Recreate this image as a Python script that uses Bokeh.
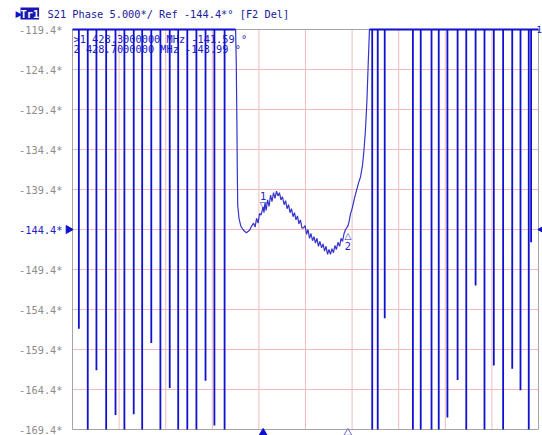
import math
from bokeh.plotting import figure
from bokeh.models import Range1d, Label, ColumnDataSource
from bokeh.embed import file_html
from bokeh.resources import INLINE
from bokeh.core.properties import value

# ---------------- data ----------------
START_MHZ, STOP_MHZ = 427.4, 429.6
TOP, BOTTOM = -119.4, -169.4
REF = -144.4

y_ticks = [-119.4, -124.4, -129.4, -134.4, -139.4, -144.4,
           -149.4, -154.4, -159.4, -164.4, -169.4]
y_tick_labels = ["-119.4*", "-124.4*", "-129.4*", "-134.4*", "-139.4*", "-144.4*",
                 "-149.4*", "-154.4*", "-159.4*", "-164.4*", "-169.4*"]
x_grid_ticks = [427.62, 427.84, 428.06, 428.28, 428.50, 428.72, 428.94, 429.16, 429.38]

# phase-wrap crossings below the pass band: frequency and lowest phase reached
spur_left_freq = [427.430, 427.472, 427.513, 427.559, 427.603, 427.645, 427.689, 427.729,
                  427.772, 427.815, 427.859, 427.899, 427.942, 427.985, 428.028, 428.070,
                  428.118]
spur_left_low = [-156.8, -169.4, -162.0, -169.4, -167.6, -169.4, -167.5, -169.4,
                 -158.6, -169.4, -164.2, -169.4, -169.4, -169.4, -163.3, -168.9,
                 -169.4]

# pass band trace
pass_freq = [428.170, 428.173, 428.176, 428.178, 428.180, 428.186, 428.195, 428.207,
             428.221, 428.236, 428.245, 428.255, 428.262, 428.269, 428.276, 428.283,
             428.290, 428.300, 428.304, 428.309, 428.314, 428.321, 428.328, 428.335,
             428.342, 428.349, 428.356, 428.363, 428.370, 428.377, 428.384, 428.391,
             428.399, 428.406, 428.413, 428.420, 428.427, 428.434, 428.441, 428.448,
             428.455, 428.462, 428.469, 428.476, 428.483, 428.491, 428.498, 428.505,
             428.512, 428.519, 428.526, 428.533, 428.540, 428.547, 428.554, 428.561,
             428.568, 428.576, 428.583, 428.590, 428.597, 428.604, 428.611, 428.618,
             428.625, 428.632, 428.639, 428.646, 428.653, 428.661, 428.668, 428.675,
             428.682, 428.689, 428.700, 428.705, 428.712, 428.722, 428.731, 428.741,
             428.750, 428.760, 428.769, 428.776, 428.783, 428.790, 428.795, 428.800,
             428.802]
pass_phase = [-119.4, -123.3, -130.8, -137.0, -141.4, -143.0, -144.0, -144.5,
              -144.8, -144.5, -144.0, -143.6, -144.1, -143.0, -143.6, -142.4,
              -142.6, -141.59, -142.3, -141.1, -142.0, -140.7, -141.5, -140.1,
              -140.9, -139.8, -140.5, -139.6, -140.2, -139.8, -140.7, -140.3,
              -141.3, -140.8, -141.8, -141.3, -142.3, -141.8, -142.8, -142.3,
              -143.2, -142.7, -143.7, -143.2, -144.2, -144.2, -143.9, -145.0,
              -144.4, -145.5, -144.9, -145.8, -145.3, -146.1, -145.5, -146.5,
              -145.9, -146.7, -146.2, -147.1, -146.5, -147.5, -146.9, -147.5,
              -146.8, -147.3, -146.4, -146.9, -146.0, -146.5, -145.5, -145.9,
              -144.9, -144.4, -143.99, -143.5, -142.5, -141.6, -140.5, -139.5,
              -138.6, -137.8, -136.4, -134.5, -132.0, -128.3, -124.5, -120.8,
              -119.4]

# phase-wrap crossings above the pass band
spur_right_freq = [428.815, 428.841, 428.874, 429.007, 429.044, 429.095, 429.129, 429.170,
                   429.218, 429.259, 429.303, 429.345, 429.389, 429.433, 429.476, 429.515,
                   429.554, 429.565]
spur_right_low = [-169.4, -169.4, -155.5, -169.4, -169.4, -169.4, -169.4, -167.9,
                  -163.2, -169.4, -151.4, -169.4, -161.4, -169.4, -161.8, -164.5,
                  -169.4, -146.0]

marker_names = ["1", "2"]
marker_freq = [428.3, 428.7]
marker_phase = [-141.59, -143.99]

title_text = "S21 Phase 5.000*/ Ref -144.4*\u00b0 [F2 Del]"

# ---------------- styling / layout ----------------
W, H = 542, 435
GL, GR, GT, GB = 72, 538, 29, 429          # graticule edges in pixels
MONO = "DejaVu Sans Mono"
SYM = "DejaVu Sans"
TRACE = "#1010d0"
PASS = "#3434c8"
GRID = "#efbcbc"
FRAME = "#a4a4a4"
LABEL_GRAY = "#8c8c8c"
BLUE_TXT = "#2222c0"
FS = "10.3px"

kx = (STOP_MHZ - START_MHZ) / (GR - GL)   # MHz per pixel
ky = (TOP - BOTTOM) / (GB - GT)           # degrees per pixel
x_range = Range1d(START_MHZ - GL * kx, STOP_MHZ + (W - GR) * kx)
y_range = Range1d(BOTTOM - (H - GB) * ky, TOP + GT * ky)


def spur_path(freqs, lows):
    xs, ys = [], []
    for f, lo in zip(freqs, lows):
        xs += [f, f, f]
        ys += [TOP, lo, TOP]
    return xs, ys


lx, ly = spur_path(spur_left_freq, spur_left_low)
rx, ry = spur_path(spur_right_freq, spur_right_low)
left_x = [START_MHZ] + lx + [pass_freq[0]]
left_y = [TOP] + ly + [TOP]
right_x = [pass_freq[-1]] + rx + [STOP_MHZ]
right_y = [TOP] + ry + [TOP]

p = figure(width=W, height=H, output_backend="svg", toolbar_location=None,
           x_range=x_range, y_range=y_range,
           x_axis_location=None, y_axis_location=None, min_border=0)
p.background_fill_color = "white"
p.border_fill_color = "white"
p.outline_line_color = None
p.xgrid.visible = False
p.ygrid.visible = False

# graticule
inner_y = y_ticks[1:-1]
p.multi_line(xs=[[START_MHZ, STOP_MHZ] for _ in inner_y], ys=[[t, t] for t in inner_y],
             line_color=GRID, line_width=1)
p.multi_line(xs=[[t, t] for t in x_grid_ticks], ys=[[BOTTOM, TOP] for _ in x_grid_ticks],
             line_color=GRID, line_width=1)
p.quad(left=[START_MHZ], right=[STOP_MHZ], bottom=[BOTTOM], top=[TOP],
       fill_color=None, line_color=FRAME, line_width=1)

# scale labels
lab_colors = [BLUE_TXT if t == REF else LABEL_GRAY for t in y_ticks]
p.text(x=[START_MHZ] * len(y_ticks), y=y_ticks, text=y_tick_labels, text_color=lab_colors,
       text_font=value(MONO), text_font_size=FS, text_align="right",
       text_baseline="middle", x_offset=-10)

# marker readout
for i, (n, f, ph) in enumerate(zip(marker_names, marker_freq, marker_phase)):
    lead = ">" if i == 0 else " "
    txt = f"{lead}{n}   {f:.7f} MHz {ph:.2f} \u00b0"
    p.text(x=[START_MHZ], y=[TOP], text=[txt], text_font=value(MONO), text_font_size=FS,
           text_color=BLUE_TXT, text_align="left", text_baseline="middle",
           x_offset=1, y_offset=9 + 10 * i)

# trace
p.line(left_x, left_y, line_color=TRACE, line_width=1.8)
p.line(pass_freq, pass_phase, line_color=PASS, line_width=1.2)
p.line(right_x, right_y, line_color=TRACE, line_width=1.8)

# markers on the trace
m1 = ColumnDataSource(dict(x=[marker_freq[0]], y=[marker_phase[0]], n=[marker_names[0]]))
m2 = ColumnDataSource(dict(x=[marker_freq[1]], y=[marker_phase[1]], n=[marker_names[1]]))
p.text(x="x", y="y", text=value("\u25bd"), source=m1, text_font=value(SYM),
       text_font_size="9px", text_color=BLUE_TXT, text_align="center",
       text_baseline="alphabetic", y_offset=-2)
p.text(x="x", y="y", text="n", source=m1, text_font=value(MONO),
       text_font_size=FS, text_color=BLUE_TXT, text_align="center",
       text_baseline="alphabetic", y_offset=-11)
p.text(x="x", y="y", text=value("\u25b3"), source=m2, text_font=value(SYM),
       text_font_size="9px", text_color=BLUE_TXT, text_align="center",
       text_baseline="alphabetic", y_offset=10)
p.text(x="x", y="y", text="n", source=m2, text_font=value(MONO),
       text_font_size=FS, text_color=BLUE_TXT, text_align="center",
       text_baseline="alphabetic", y_offset=20)

# reference level arrows (outside the graticule, left and right)
p.scatter(x=[START_MHZ - 4 * kx], y=[REF], marker="triangle", size=8,
          angle=-math.pi / 2, fill_color=TRACE, line_color=TRACE)
p.scatter(x=[STOP_MHZ + 4 * kx], y=[REF], marker="triangle", size=8,
          angle=math.pi / 2, fill_color=TRACE, line_color=TRACE)
# channel number at the top right
p.text(x=[STOP_MHZ], y=[TOP], text=["1"], text_font=value(MONO), text_font_size="9px",
       text_color=TRACE, text_align="left", text_baseline="middle", x_offset=-2)

# stimulus markers under the graticule
p.scatter(x=[marker_freq[0]], y=[BOTTOM - 3.5 * ky], marker="triangle", size=8,
          fill_color=TRACE, line_color=TRACE)
p.scatter(x=[marker_freq[1]], y=[BOTTOM - 3.5 * ky], marker="triangle", size=8,
          fill_color="white", line_color="#6a6ab8")

# trace title row
p.text(x=[START_MHZ], y=[TOP], text=["\u25b6"], text_font=value(SYM), text_font_size="9px",
       text_color=TRACE, text_align="left", text_baseline="middle", x_offset=-57, y_offset=-16)
p.add_layout(Label(x=20, y=H - 13, x_units="screen", y_units="screen", text="Tr1",
                   text_font=MONO, text_font_size=FS, text_color="white",
                   text_font_style="bold", background_fill_color="#1818b0",
                   text_align="left", text_baseline="middle"))
p.text(x=[START_MHZ], y=[TOP], text=[title_text], text_font=value(MONO), text_font_size=FS,
       text_color="#20209c", text_align="left", text_baseline="middle",
       x_offset=-25, y_offset=-16)

open("out.html", "w").write(file_html(p, INLINE))
